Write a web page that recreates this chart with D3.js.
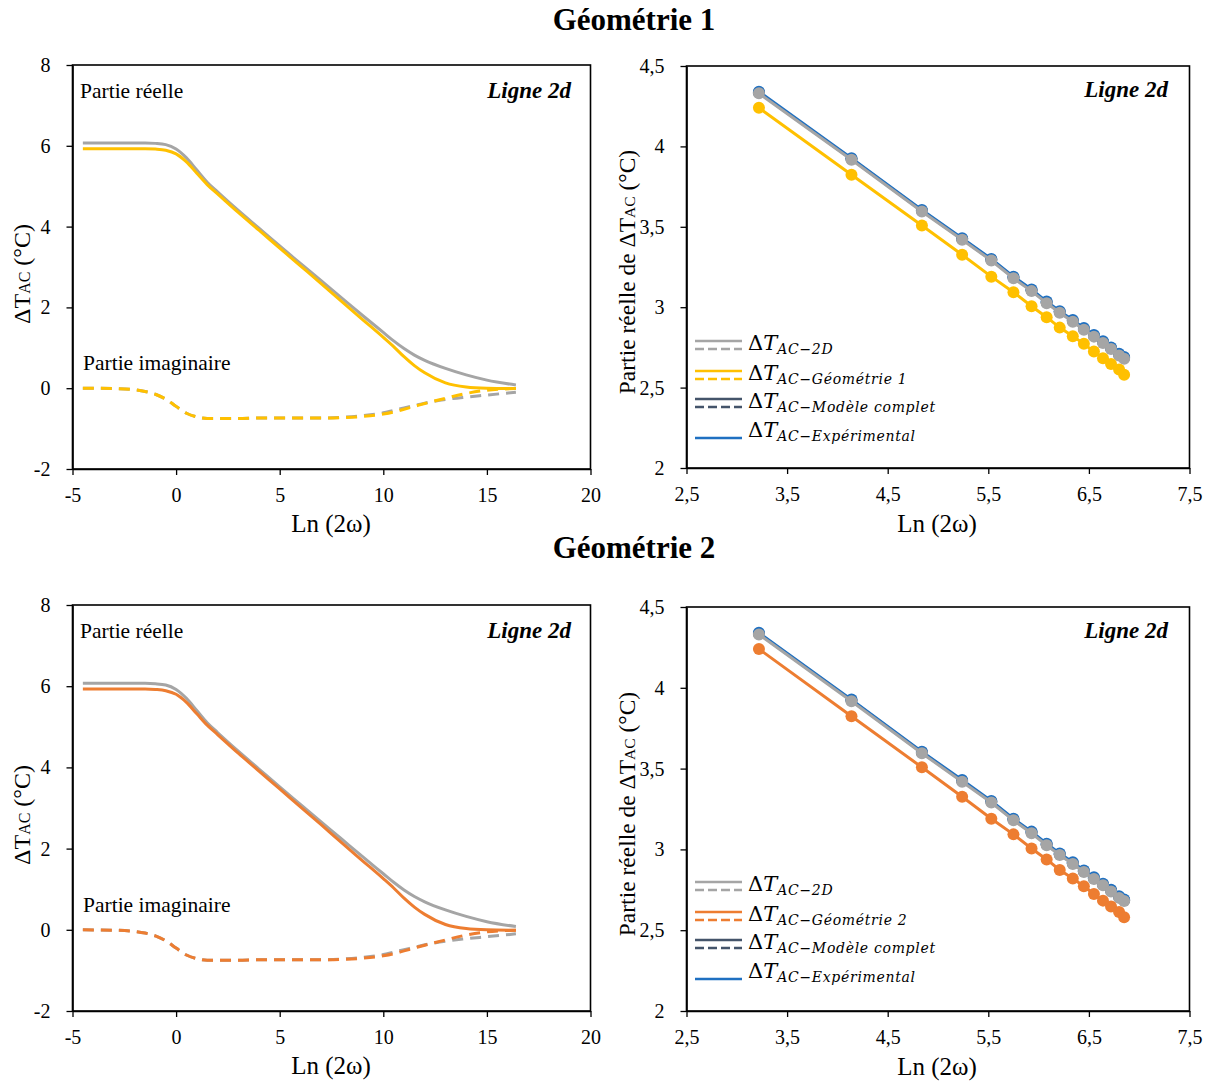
<!DOCTYPE html>
<html><head><meta charset="utf-8">
<script src="https://cdn.jsdelivr.net/npm/d3@7"></script>
<style>body{margin:0;background:#fff} svg{display:block}</style>
</head><body>
<script>
// ---------- DATA ----------
const curveX   = [-4.5,-3,-2,-1.5,-1,-0.5,0,0.5,1,1.5,2,3,4,5,6,7,8,9,10,10.5,11,11.5,12,13,14,15,16.4];
const re2D     = [6.07,6.07,6.07,6.07,6.06,6.03,5.92,5.70,5.40,5.10,4.86,4.40,3.96,3.52,3.09,2.66,2.23,1.80,1.38,1.17,0.98,0.82,0.69,0.49,0.33,0.20,0.08];
const im2D     = [0.00,-0.01,-0.04,-0.08,-0.15,-0.27,-0.45,-0.62,-0.71,-0.75,-0.75,-0.75,-0.74,-0.74,-0.74,-0.74,-0.72,-0.68,-0.61,-0.55,-0.49,-0.43,-0.37,-0.28,-0.22,-0.17,-0.10];
const reGeo1   = [5.93,5.93,5.93,5.93,5.92,5.89,5.80,5.60,5.32,5.04,4.81,4.35,3.91,3.47,3.03,2.59,2.14,1.70,1.26,1.03,0.78,0.56,0.38,0.13,0.03,0.00,-0.01];
const imGeo1   = [0.00,-0.01,-0.04,-0.08,-0.15,-0.27,-0.45,-0.62,-0.71,-0.75,-0.75,-0.75,-0.74,-0.74,-0.74,-0.74,-0.73,-0.70,-0.64,-0.59,-0.52,-0.45,-0.38,-0.25,-0.13,-0.05,-0.01];
const reGeo2   = [5.93,5.93,5.93,5.93,5.92,5.89,5.80,5.60,5.32,5.04,4.81,4.35,3.91,3.47,3.03,2.59,2.14,1.70,1.26,1.03,0.78,0.56,0.38,0.13,0.03,0.00,-0.01];
const imGeo2   = [0.00,-0.01,-0.04,-0.08,-0.15,-0.27,-0.45,-0.62,-0.71,-0.75,-0.75,-0.75,-0.74,-0.74,-0.74,-0.74,-0.73,-0.70,-0.64,-0.59,-0.52,-0.45,-0.38,-0.25,-0.13,-0.05,-0.01];

const pointX   = [3.22,4.14,4.84,5.24,5.53,5.75,5.93,6.08,6.21,6.34,6.45,6.55,6.64,6.72,6.80,6.85];
const pts2D    = [4.33,3.917,3.595,3.419,3.29,3.18,3.10,3.025,2.965,2.91,2.86,2.817,2.778,2.74,2.70,2.68];
const ptsGeo1  = [4.24,3.824,3.508,3.326,3.19,3.093,3.006,2.938,2.873,2.82,2.772,2.724,2.683,2.647,2.612,2.58];
const ptsGeo2  = [4.24,3.824,3.508,3.326,3.19,3.093,3.006,2.938,2.873,2.82,2.772,2.724,2.683,2.647,2.612,2.58];
const ptsModel = [4.335,3.922,3.60,3.424,3.295,3.185,3.105,3.03,2.97,2.915,2.865,2.822,2.783,2.745,2.705,2.685];
const ptsExp   = [4.34,3.927,3.605,3.429,3.30,3.19,3.11,3.035,2.975,2.92,2.87,2.827,2.788,2.75,2.71,2.69];

const leftXTicks  = [-5,0,5,10,15,20];
const leftYTicks  = [-2,0,2,4,6,8];
const rightXTicks = [2.5,3.5,4.5,5.5,6.5,7.5];
const rightYTicks = [2,2.5,3,3.5,4,4.5];

const titles = ["Géométrie 1","Géométrie 2"];
const geoNames = ["Géométrie 1","Géométrie 2"];

// ---------- STYLE ----------
const C = {gray:"#A5A5A5", yellow:"#FFC000", orange:"#ED7D31", dark:"#44546A", blue:"#1F70C1"};
const SERIF = "Liberation Serif, Tinos, Times New Roman, Nimbus Roman, DejaVu Serif, serif";
const MATH = "DejaVu Serif, serif";

const svg = d3.select("body").append("svg").attr("width",1212).attr("height",1084)
  .style("background","#fff");

function frame(g, x0, x1, y0, y1){
  g.append("rect").attr("x",x0).attr("y",y0).attr("width",x1-x0).attr("height",y1-y0)
    .attr("fill","none").attr("stroke","#000").attr("stroke-width",1.6);
}
function styleAxis(a){
  a.attr("font-family",null).attr("font-size",null);
  a.selectAll("path.domain").attr("stroke","#000").attr("stroke-width",1.6);
  a.selectAll(".tick line").attr("stroke","#000").attr("stroke-width",1.3);
  a.selectAll(".tick text").style("font-family",SERIF).style("font-size","20px").attr("fill","#000");
}
function txt(g, x, y, s, size, anchor){
  return g.append("text").attr("x",x).attr("y",y).attr("text-anchor",anchor||"start").text(s)
    .style("font-family",SERIF).style("font-size",size+"px");
}

function leftPanel(top, bot, reG, imG, col){
  const x0=72.5, x1=590.5;
  const x = d3.scaleLinear().domain([-5,20]).range([x0,x1]);
  const y = d3.scaleLinear().domain([-2,8]).range([bot,top]);
  const g = svg.append("g");
  const ax = g.append("g").attr("transform",`translate(0,${bot})`)
    .call(d3.axisBottom(x).tickValues(leftXTicks).tickSize(6).tickSizeOuter(0).tickPadding(13).tickFormat(d=>String(d)));
  styleAxis(ax);
  const ay = g.append("g").attr("transform",`translate(${x0},0)`)
    .call(d3.axisLeft(y).tickValues(leftYTicks).tickSize(6).tickSizeOuter(0).tickPadding(16).tickFormat(d=>String(d)));
  styleAxis(ay);
  frame(g,x0,x1,top,bot);
  const line = arr => d3.line().x((d,i)=>x(curveX[i])).y(d=>y(d)).curve(d3.curveMonotoneX)(arr);
  g.append("path").attr("d",line(im2D)).attr("fill","none").attr("stroke",C.gray).attr("stroke-width",3).attr("stroke-dasharray","11,7");
  g.append("path").attr("d",line(imG)).attr("fill","none").attr("stroke",col).attr("stroke-width",3).attr("stroke-dasharray","11,7");
  g.append("path").attr("d",line(re2D)).attr("fill","none").attr("stroke",C.gray).attr("stroke-width",3);
  g.append("path").attr("d",line(reG)).attr("fill","none").attr("stroke",col).attr("stroke-width",3);
  // annotations
  txt(g,80,top+33,"Partie réelle",21.5);
  txt(g,571,top+33,"Ligne 2d",23,"end").style("font-weight","bold").style("font-style","italic");
  txt(g,83,y(0)-18,"Partie imaginaire",21.5);
  // axis titles
  txt(g,(x0+x1)/2 - 0.5,bot+63,"Ln (2ω)",25,"middle");
  const yl = g.append("text").attr("transform",`translate(30,${(top+bot)/2+7}) rotate(-90)`)
    .attr("text-anchor","middle").style("font-family",SERIF).style("font-size","24px");
  yl.append("tspan").text("ΔT");
  yl.append("tspan").style("font-size","16px").text("AC");
  yl.append("tspan").text(" (°C)");
}

function rightPanel(top, bot, ptsG, col, geoName){
  const x0=686.5, x1=1189.5;
  const x = d3.scaleLinear().domain([2.5,7.5]).range([x0,x1]);
  const y = d3.scaleLinear().domain([2,4.5]).range([bot,top]);
  const g = svg.append("g");
  const fmt = d=>String(d).replace(".",",");
  const ax = g.append("g").attr("transform",`translate(0,${bot})`)
    .call(d3.axisBottom(x).tickValues(rightXTicks).tickSize(6).tickSizeOuter(0).tickPadding(13).tickFormat(fmt));
  styleAxis(ax);
  const ay = g.append("g").attr("transform",`translate(${x0},0)`)
    .call(d3.axisLeft(y).tickValues(rightYTicks).tickSize(6).tickSizeOuter(0).tickPadding(16).tickFormat(fmt));
  styleAxis(ay);
  frame(g,x0,x1,top,bot);
  const line = arr => d3.line().x((d,i)=>x(pointX[i])).y(d=>y(d))(arr);
  const series = [[ptsModel,C.dark],[ptsExp,C.blue],[pts2D,C.gray],[ptsG,col]];
  series.forEach(([arr,c])=>{
    g.append("path").attr("d",line(arr)).attr("fill","none").attr("stroke",c).attr("stroke-width",3);
    g.selectAll(null).data(arr).enter().append("circle")
      .attr("cx",(d,i)=>x(pointX[i])).attr("cy",d=>y(d)).attr("r",6).attr("fill",c);
  });
  txt(g,1168,top+31,"Ligne 2d",23,"end").style("font-weight","bold").style("font-style","italic");
  txt(g,(x0+x1)/2 - 1,bot+64,"Ln (2ω)",25,"middle");
  const yl = g.append("text").attr("transform",`translate(635,${(top+bot)/2+5}) rotate(-90)`)
    .attr("text-anchor","middle").style("font-family",SERIF).style("font-size","23.5px");
  yl.append("tspan").text("Partie réelle de ΔT");
  yl.append("tspan").style("font-size","15.5px").text("AC");
  yl.append("tspan").text(" (°C)");
  // legend
  const legend = [
    {sub:"AC−2D", c:C.gray, dashed:true},
    {sub:"AC−"+geoName, c:col, dashed:true},
    {sub:"AC−Modèle complet", c:C.dark, dashed:true},
    {sub:"AC−Expérimental", c:C.blue, dashed:false}
  ];
  const rowY = [0,30,58,87];
  const base = top + 284;
  legend.forEach((L,i)=>{
    const by = base + rowY[i];
    const lx0 = 695, lx1 = 742;
    if(L.dashed){
      g.append("line").attr("x1",lx0).attr("x2",lx1).attr("y1",by-9).attr("y2",by-9).attr("stroke",L.c).attr("stroke-width",2.6);
      g.append("line").attr("x1",lx0).attr("x2",lx1).attr("y1",by-1).attr("y2",by-1).attr("stroke",L.c).attr("stroke-width",2.6).attr("stroke-dasharray","9,4");
    } else {
      g.append("line").attr("x1",lx0).attr("x2",lx1).attr("y1",by+1).attr("y2",by+1).attr("stroke",L.c).attr("stroke-width",2.6);
    }
    const t = g.append("text").attr("x",748).attr("y",by).style("font-family",MATH).attr("fill","#000");
    t.append("tspan").style("font-size","21px").text("Δ");
    t.append("tspan").style("font-size","21px").style("font-style","italic").text("T");
    t.append("tspan").style("font-size","14px").style("font-style","italic").style("letter-spacing","0.7px").attr("dy",4).text(L.sub);
  });
}

// titles
[20, 548].forEach((cy,i)=>{
  txt(svg,634,cy+10,titles[i],31,"middle").style("font-weight","bold");
});

leftPanel(65, 469, reGeo1, imGeo1, C.yellow);
rightPanel(66, 468, ptsGeo1, C.yellow, geoNames[0]);
leftPanel(605, 1011, reGeo2, imGeo2, C.orange);
rightPanel(607, 1011, ptsGeo2, C.orange, geoNames[1]);
</script>
</body></html>
